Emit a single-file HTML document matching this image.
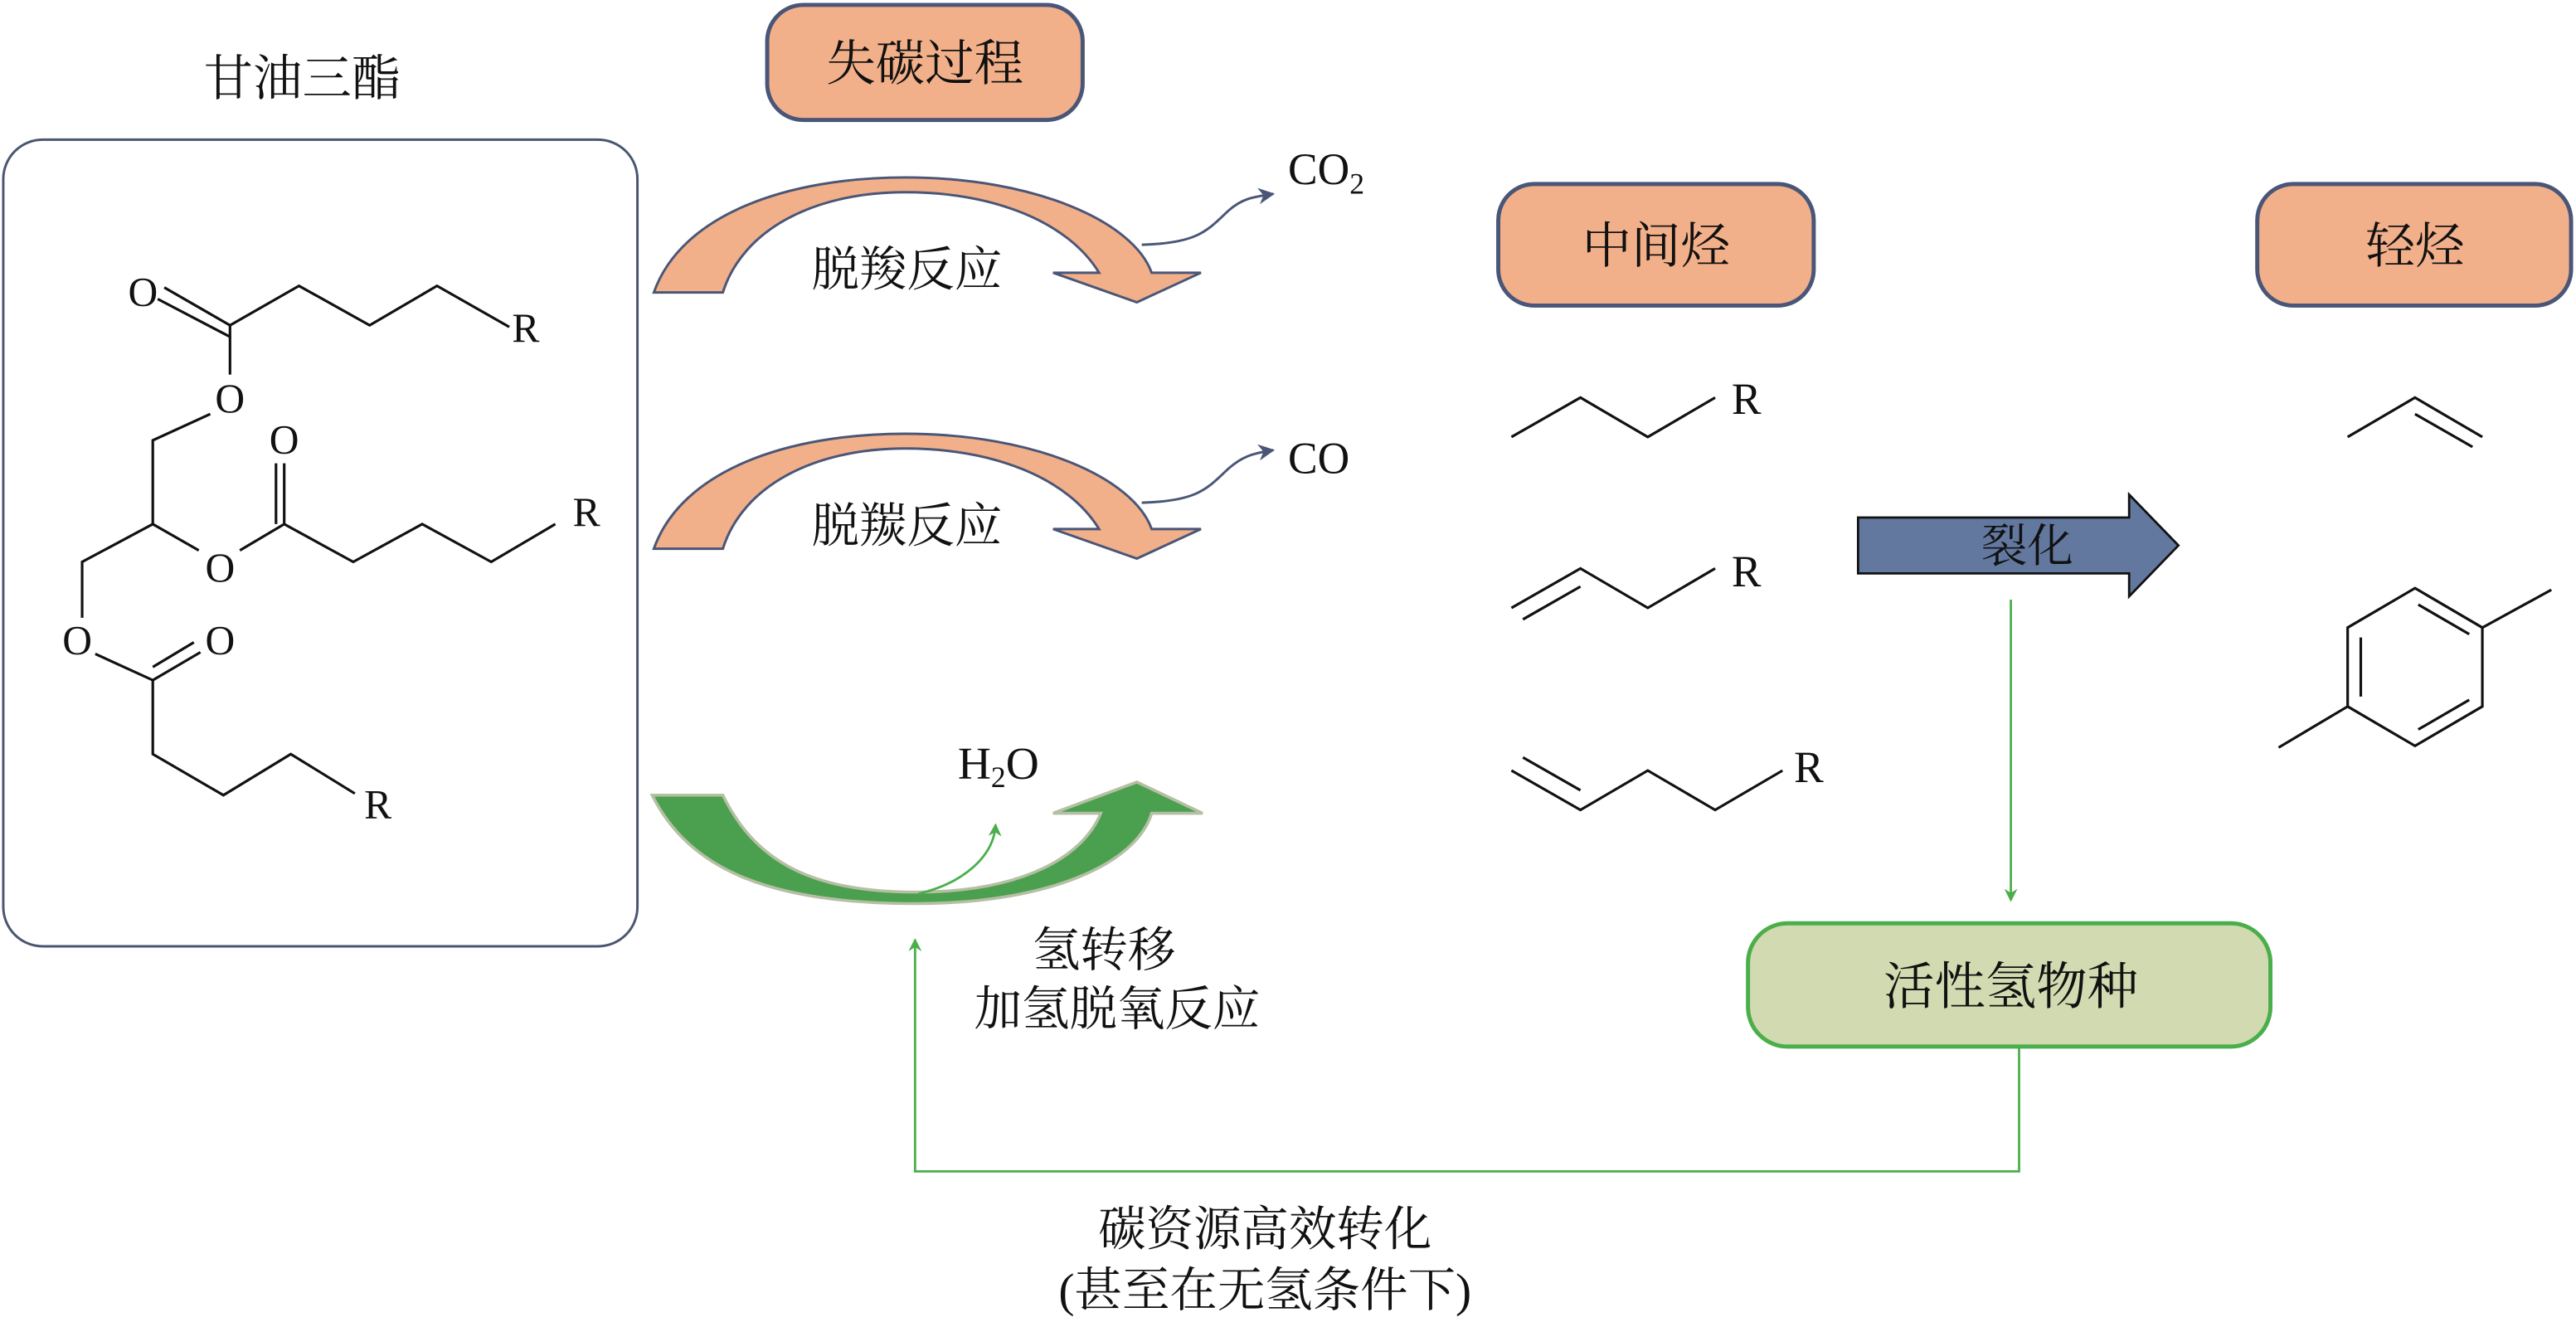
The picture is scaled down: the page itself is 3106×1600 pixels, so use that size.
<!DOCTYPE html>
<html><head><meta charset="utf-8"><style>
html,body{margin:0;padding:0;background:#fff;}
svg{display:block;}
.cj{font-family:"Liberation Serif","Noto Serif CJK SC","Noto Sans CJK SC",serif;fill:#111;}
.lt{font-family:"Liberation Serif",serif;fill:#111;}
</style></head><body>
<svg width="3106" height="1600" viewBox="0 0 1568 807.7" preserveAspectRatio="none" xmlns="http://www.w3.org/2000/svg">
<defs>
<marker id="ag" markerWidth="8" markerHeight="8" refX="7" refY="4" orient="auto" markerUnits="userSpaceOnUse"><path d="M0,0 L8,4 L0,8 L2.5,4 Z" fill="#4aae4a"/></marker>
<marker id="ab" markerWidth="10" markerHeight="10" refX="9" refY="5" orient="auto" markerUnits="userSpaceOnUse"><path d="M0,0 L10,5 L0,10 L3,5 Z" fill="#4a5677"/></marker>
</defs>

<text class="cj" x="184" y="58" font-size="30" text-anchor="middle">甘油三酯</text>
<rect x="2" y="85" width="386" height="491" rx="24" fill="none" stroke="#4a5670" stroke-width="1.5"/>

<g stroke="#111" stroke-width="1.6" fill="none">
<path d="M140,198 L182,174 L225,198 L266,174 L310,199"/>
<path d="M96,182 L140,205 M100,175 L140,198"/>
<path d="M140,198 L140,228"/>
<path d="M128,252 L93,268 L93,319 L121,335"/>
<path d="M146,335 L173,319 L215,342 L257,319 L299,342 L338,319"/>
<path d="M173,319 L173,282 M168,319 L168,282"/>
<path d="M93,319 L50,342 L50,376"/>
<path d="M58,398 L93,414 L93,459 L136,484 L177,459 L216,483"/>
<path d="M93,414 L122,397 M93,406 L118,391"/>
</g>
<g class="lt" font-size="25" text-anchor="middle">
<text x="87" y="186">O</text>
<text x="320" y="208">R</text>
<text x="140" y="251">O</text>
<text x="134" y="354">O</text>
<text x="173" y="276">O</text>
<text x="357" y="320">R</text>
<text x="47" y="398">O</text>
<text x="134" y="398">O</text>
<text x="230" y="498">R</text>
</g>

<rect x="467" y="3" width="192" height="70" rx="22" fill="#f2b08a" stroke="#4a5677" stroke-width="2.5"/>
<text class="cj" x="563" y="49" font-size="30" text-anchor="middle">失碳过程</text>

<g fill="#f2b08a" stroke="#4a5677" stroke-width="1.5" stroke-linejoin="miter">
<path d="M398,178 C415,130 480,108 551,108 C630,108 690,135 701,166 L731,166 L692,184 L641,166 L669,166 C650,135 605,117 551,117 C495,117 452,140 440,178 Z"/>
<path d="M398,334 C415,286 480,264 551,264 C630,264 690,291 701,322 L731,322 L692,340 L641,322 L669,322 C650,291 605,273 551,273 C495,273 452,296 440,334 Z"/>
</g>
<text class="cj" x="552" y="174" font-size="29" text-anchor="middle">脱羧反应</text>
<text class="cj" x="552" y="330" font-size="29" text-anchor="middle">脱羰反应</text>

<path d="M695,149 C730,148 735,140 748,128 C756,121 762,120 775,118" fill="none" stroke="#4a5677" stroke-width="1.5" marker-end="url(#ab)"/>
<path d="M695,306 C730,305 735,297 748,285 C756,278 762,276 775,274" fill="none" stroke="#4a5677" stroke-width="1.5" marker-end="url(#ab)"/>
<text class="lt" x="784" y="112" font-size="27">CO<tspan font-size="18" dy="6">2</tspan></text>
<text class="lt" x="784" y="288" font-size="27">CO</text>

<path d="M397,484 C420,530 470,550 557,550 C640,550 692,525 701,495 L732,495 L692,476 L641,495 L670,495 C660,520 625,543 557,543 C495,543 460,525 440,484 Z" fill="#4aa04e" stroke="#b5bfa4" stroke-width="1.8"/>
<path d="M559,544 C585,538 605,522 606,502" fill="none" stroke="#4aae4a" stroke-width="1.4" marker-end="url(#ag)"/>
<text class="lt" x="583" y="474" font-size="28">H<tspan font-size="18" dy="5">2</tspan><tspan dy="-5">O</tspan></text>
<text class="cj" x="672" y="588" font-size="29" text-anchor="middle">氢转移</text>
<text class="cj" x="680" y="624" font-size="29" text-anchor="middle">加氢脱氧反应</text>

<rect x="912" y="112" width="192" height="74" rx="22" fill="#f2b08a" stroke="#4a5677" stroke-width="2.5"/>
<text class="cj" x="1008" y="160" font-size="30" text-anchor="middle">中间烃</text>
<rect x="1374" y="112" width="191" height="74" rx="22" fill="#f2b08a" stroke="#4a5677" stroke-width="2.5"/>
<text class="cj" x="1470" y="160" font-size="30" text-anchor="middle">轻烃</text>

<g stroke="#111" stroke-width="1.6" fill="none">
<path d="M920,266 L962,242 L1003,266 L1044,242"/>
<path d="M920,370 L962,346 L1003,370 L1044,346 M927,377 L962,357"/>
<path d="M920,469 L962,493 L1003,469 L1044,493 L1085,469 M927,461 L962,481"/>
<path d="M1429,266 L1470,242 L1511,266 M1470,252 L1505,272"/>
<path d="M1470,358 L1511,382 L1511,430 L1470,454 L1429,430 L1429,382 Z"/>
<path d="M1472,368 L1503,386 M1437,388 L1437,424 M1472,444 L1503,426"/>
<path d="M1511,382 L1553,359 M1429,430 L1387,455"/>
</g>
<g class="lt" font-size="27" text-anchor="middle">
<text x="1063" y="252">R</text>
<text x="1063" y="357">R</text>
<text x="1101" y="476">R</text>
</g>

<path d="M1131,315 L1296,315 L1296,301 L1326,332 L1296,363 L1296,349 L1131,349 Z" fill="#62789e" stroke="#111" stroke-width="1.4"/>
<text class="cj" x="1234" y="342" font-size="28" text-anchor="middle">裂化</text>

<line x1="1224" y1="365" x2="1224" y2="548" stroke="#4aae4a" stroke-width="1.4" marker-end="url(#ag)"/>
<rect x="1064" y="562" width="318" height="75" rx="24" fill="#d1dab0" stroke="#4aae4a" stroke-width="2.5"/>
<text class="cj" x="1224" y="611" font-size="31" text-anchor="middle">活性氢物种</text>
<path d="M1229,637 L1229,713 L557,713 L557,572" fill="none" stroke="#4aae4a" stroke-width="1.4" marker-end="url(#ag)"/>

<text class="cj" x="770" y="758" font-size="29" text-anchor="middle">碳资源高效转化</text>
<text class="cj" x="770" y="795" font-size="29" text-anchor="middle">(甚至在无氢条件下)</text>
</svg>
</body></html>
